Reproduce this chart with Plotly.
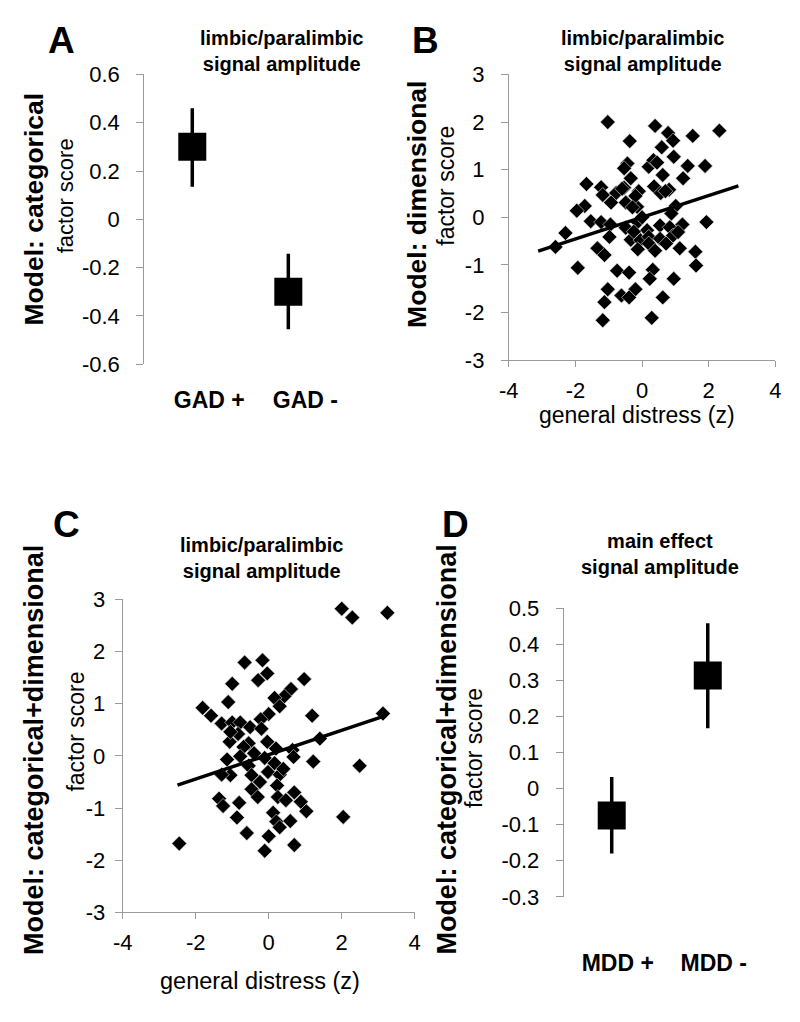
import plotly.graph_objects as go

# ---------------- data ----------------
a_groups = ["GAD +", "GAD -"]
a_means = [0.30, -0.30]
a_err_plus = [0.16, 0.157]
a_err_minus = [0.165, 0.155]

d_groups = ["MDD +", "MDD -"]
d_means = [-0.075, 0.313]
d_err_plus = [0.107, 0.145]
d_err_minus = [0.105, 0.146]

bx = [-1.03, 0.39, 0.78, 1.52, 2.32, 0.93, -0.37, 0.59, 0.95, -0.44,
      -0.54, 0.20, 0.34, 1.37, 1.89, 0.62, 1.23, -0.34, -1.67, -1.23,
      -0.54, -0.78, -0.10, 0.36, 0.56, 0.81, -1.18, -0.93, -1.72, -1.96,
      -0.49, -0.15, 1.01, 0.88, -1.54, -1.23, -0.95, -2.30, -2.60, -0.49,
      -0.13, 0.15, 0.54, 0.83, 1.21, 1.93, -0.98, -0.34, -0.05, 0.20,
      0.54, 0.93, 1.13, 0.72, 0.20, -0.13, 0.39, -1.34, -1.13, 1.60,
      1.62, -1.93, -0.75, -0.39, 0.32, 0.23, 0.95, -1.03, -0.20, -0.62,
      -0.39, 0.62, -1.13, -1.18, 0.29, -0.20, -0.29, 0.00, 1.08, -0.60,
      -0.25, 0.45, 0.70]
by = [2.00, 1.92, 1.77, 1.71, 1.82, 1.61, 1.60, 1.47, 1.27, 1.13,
      1.03, 1.06, 1.20, 1.08, 1.08, 0.89, 0.82, 0.82, 0.70, 0.63,
      0.62, 0.51, 0.55, 0.65, 0.51, 0.58, 0.47, 0.31, 0.24, 0.14,
      0.31, 0.22, 0.24, 0.08, -0.08, -0.10, -0.15, -0.33, -0.62, -0.22,
      -0.10, -0.27, -0.17, -0.21, -0.15, -0.10, -0.41, -0.47, -0.48, -0.41,
      -0.45, -0.38, -0.65, -0.55, -0.55, -0.67, -0.70, -0.65, -0.79, -0.72,
      -1.01, -1.06, -1.12, -1.16, -1.10, -1.29, -1.29, -1.51, -1.51, -1.64,
      -1.68, -1.68, -1.78, -2.16, -2.11, 0.45, 0.21, 0.00, -0.31, 0.60,
      -0.30, 1.15, 0.55]
b_fit_x = [-3.12, 2.89]
b_fit_y = [-0.71, 0.66]

cx = [2.00, 2.29, 3.25, -0.66, -0.17, -0.04, -0.29, -1.00, 0.97, 0.61,
      0.43, -1.11, 0.16, 0.30, 0.00, -0.22, -1.81, -1.58, -1.29, -1.00,
      -0.78, -0.51, -0.20, -0.84, -1.07, -0.55, -0.69, -0.04, 0.20, 0.65,
      1.19, 1.40, 3.13, -1.14, -0.78, -0.55, -0.11, 0.16, 0.68, 1.22,
      2.49, -1.05, -1.29, -0.47, -0.02, 0.30, -0.24, 0.23, -0.47, -0.30,
      0.25, 0.70, 0.47, 0.88, -1.36, -1.25, -0.81, 1.03, 0.12, 2.04,
      -0.87, 0.21, 0.59, 0.30, -0.60, 0.00, -2.45, 0.70, -0.11, -1.05,
      0.40, -0.40]
cy = [2.82, 2.65, 2.74, 1.79, 1.83, 1.58, 1.45, 1.38, 1.47, 1.28,
      1.14, 1.03, 1.11, 0.95, 0.80, 0.70, 0.92, 0.77, 0.62, 0.64,
      0.64, 0.55, 0.52, 0.42, 0.27, 0.24, 0.17, 0.27, 0.14, 0.11,
      0.77, 0.33, 0.81, -0.07, -0.01, -0.19, -0.04, -0.14, -0.02, -0.11,
      -0.19, -0.37, -0.36, -0.37, -0.31, -0.36, -0.50, -0.57, -0.64, -0.79,
      -0.79, -0.70, -0.85, -0.88, -0.82, -0.96, -0.90, -1.06, -1.09, -1.17,
      -1.18, -1.26, -1.25, -1.37, -1.48, -1.54, -1.68, -1.71, -1.82, 0.46,
      -0.25, 0.05]
c_fit_x = [-2.50, 3.12]
c_fit_y = [-0.56, 0.75]

a_ticks = [0.6, 0.4, 0.2, 0, -0.2, -0.4, -0.6]
a_ticktext = ["0.6", "0.4", "0.2", "0", "-0.2", "-0.4", "-0.6"]
bc_yticks = [3, 2, 1, 0, -1, -2, -3]
bc_yticktext = ["3", "2", "1", "0", "-1", "-2", "-3"]
bc_xticks = [-4, -2, 0, 2, 4]
bc_xticktext = ["-4", "-2", "0", "2", "4"]
d_ticks = [0.5, 0.4, 0.3, 0.2, 0.1, 0, -0.1, -0.2, -0.3]
d_ticktext = ["0.5", "0.4", "0.3", "0.2", "0.1", "0", "-0.1", "-0.2", "-0.3"]

# ---------------- figure ----------------
W, H = 800, 1022
FONT = "Liberation Sans, Arial, sans-serif"
AX = "#9a9a9a"


def px(x):
    return x / W


def py(y):
    return 1 - y / H


fig = go.Figure()

square = dict(symbol="square", size=28, color="black")
ebar = dict(type="data", symmetric=False, thickness=3.5, width=0, color="black")
diamond = dict(symbol="diamond", size=11.5, color="black",
               line=dict(color="#e6e6e6", width=0.6))

fig.add_trace(go.Scatter(x=[0, 1], y=a_means, mode="markers", marker=square,
                         error_y=dict(ebar, array=a_err_plus, arrayminus=a_err_minus),
                         xaxis="x", yaxis="y", showlegend=False))
fig.add_trace(go.Scatter(x=bx, y=by, mode="markers", marker=diamond,
                         xaxis="x2", yaxis="y2", showlegend=False))
fig.add_trace(go.Scatter(x=b_fit_x, y=b_fit_y, mode="lines",
                         line=dict(color="black", width=3.5),
                         xaxis="x2", yaxis="y2", showlegend=False))
fig.add_trace(go.Scatter(x=cx, y=cy, mode="markers", marker=diamond,
                         xaxis="x3", yaxis="y3", showlegend=False))
fig.add_trace(go.Scatter(x=c_fit_x, y=c_fit_y, mode="lines",
                         line=dict(color="black", width=3.5),
                         xaxis="x3", yaxis="y3", showlegend=False))
fig.add_trace(go.Scatter(x=[0, 1], y=d_means, mode="markers", marker=square,
                         error_y=dict(ebar, array=d_err_plus, arrayminus=d_err_minus),
                         xaxis="x4", yaxis="y4", showlegend=False))

tickfont = dict(family=FONT, size=22, color="black")
boldcat = dict(family=FONT, size=23, color="black", weight="bold")

yax_common = dict(showline=True, linecolor=AX, linewidth=1, ticks="outside",
                  ticklen=7, tickcolor=AX, showgrid=False, zeroline=False,
                  tickfont=tickfont)
xnum_common = dict(showline=True, linecolor=AX, linewidth=1, ticks="outside",
                   ticklen=6, tickcolor=AX, showgrid=False, zeroline=False,
                   tickfont=tickfont)
xcat_common = dict(showline=False, ticks="", showgrid=False, zeroline=False,
                   tickfont=boldcat, range=[-0.5, 1.5])

fig.update_layout(
    width=W, height=H, margin=dict(l=0, r=0, t=0, b=0),
    paper_bgcolor="white", plot_bgcolor="white",
    font=dict(family=FONT, color="black"),
    hovermode=False,
    # Panel A
    xaxis=dict(xcat_common, domain=[px(137), px(333)], anchor="y",
               tickvals=[0, 1], ticktext=a_groups, ticklabelstandoff=20,
               ticklabelshift=17),
    yaxis=dict(yax_common, domain=[py(361), py(64)], anchor="x",
               range=[-0.6, 0.6], tickvals=a_ticks, ticktext=a_ticktext,
               ticklabelstandoff=12),
    # Panel B
    xaxis2=dict(xnum_common, domain=[px(509), px(781)], anchor="y2",
                range=[-4, 4], tickvals=bc_xticks, ticktext=bc_xticktext,
                ticklabelstandoff=4),
    yaxis2=dict(yax_common, domain=[py(357), py(64)], anchor="x2",
                range=[-3, 3], tickvals=bc_yticks, ticktext=bc_yticktext,
                ticklabelstandoff=12),
    # Panel C
    xaxis3=dict(xnum_common, domain=[px(115), px(413)], anchor="y3",
                range=[-4, 4], tickvals=bc_xticks, ticktext=bc_xticktext,
                ticklabelstandoff=4),
    yaxis3=dict(yax_common, domain=[py(923), py(602)], anchor="x3",
                range=[-3, 3], tickvals=bc_yticks, ticktext=bc_yticktext,
                ticklabelstandoff=5),
    # Panel D
    xaxis4=dict(xcat_common, domain=[px(565), px(761)], anchor="y4",
                tickvals=[0, 1], ticktext=d_groups, ticklabelstandoff=50,
                ticklabelshift=6),
    yaxis4=dict(yax_common, domain=[py(907), py(611)], anchor="x4",
                range=[-0.3, 0.5], tickvals=d_ticks, ticktext=d_ticktext,
                ticklabelstandoff=12),
)


def ann(text, x, y, size, bold=False, angle=0):
    fig.add_annotation(
        text=text, x=px(x), y=py(y), xref="paper", yref="paper",
        xanchor="center", yanchor="middle", showarrow=False, textangle=angle,
        font=dict(family=FONT, size=size, color="black",
                  weight="bold" if bold else "normal"))


# panel letters
ann("A", 53, 29, 37, bold=True)
ann("B", 424, 29, 37, bold=True)
ann("C", 58, 525, 37, bold=True)
ann("D", 455, 525, 37, bold=True)

# panel titles
ann("limbic/paralimbic<br>signal amplitude", 277, 40, 20, bold=True)
ann("limbic/paralimbic<br>signal amplitude", 645, 40, 20, bold=True)
ann("limbic/paralimbic<br>signal amplitude", 257, 560, 20, bold=True)
ann("main effect<br>signal amplitude", 663, 556, 20, bold=True)

# y titles
ann("Model: categorical", 25, 202, 26.5, bold=True, angle=-90)
ann("factor score", 57, 188, 22, angle=-90)
ann("Model: dimensional", 415, 197, 26.5, bold=True, angle=-90)
ann("factor score", 445, 178, 23, angle=-90)
ann("Model: categorical+dimensional", 25, 757, 27, bold=True, angle=-90)
ann("factor score", 67, 738, 23, angle=-90)
ann("Model: categorical+dimensional", 445, 756, 27, bold=True, angle=-90)
ann("factor score", 473, 755, 23, angle=-90)

# x titles
ann("general distress (z)", 640, 413, 23)
ann("general distress (z)", 255, 993, 23.5)

fig.write_html("out.html",
               config={"displayModeBar": False, "staticPlot": True},
               post_script="document.body.style.margin='0';"
                           "document.body.style.overflow='hidden';")
